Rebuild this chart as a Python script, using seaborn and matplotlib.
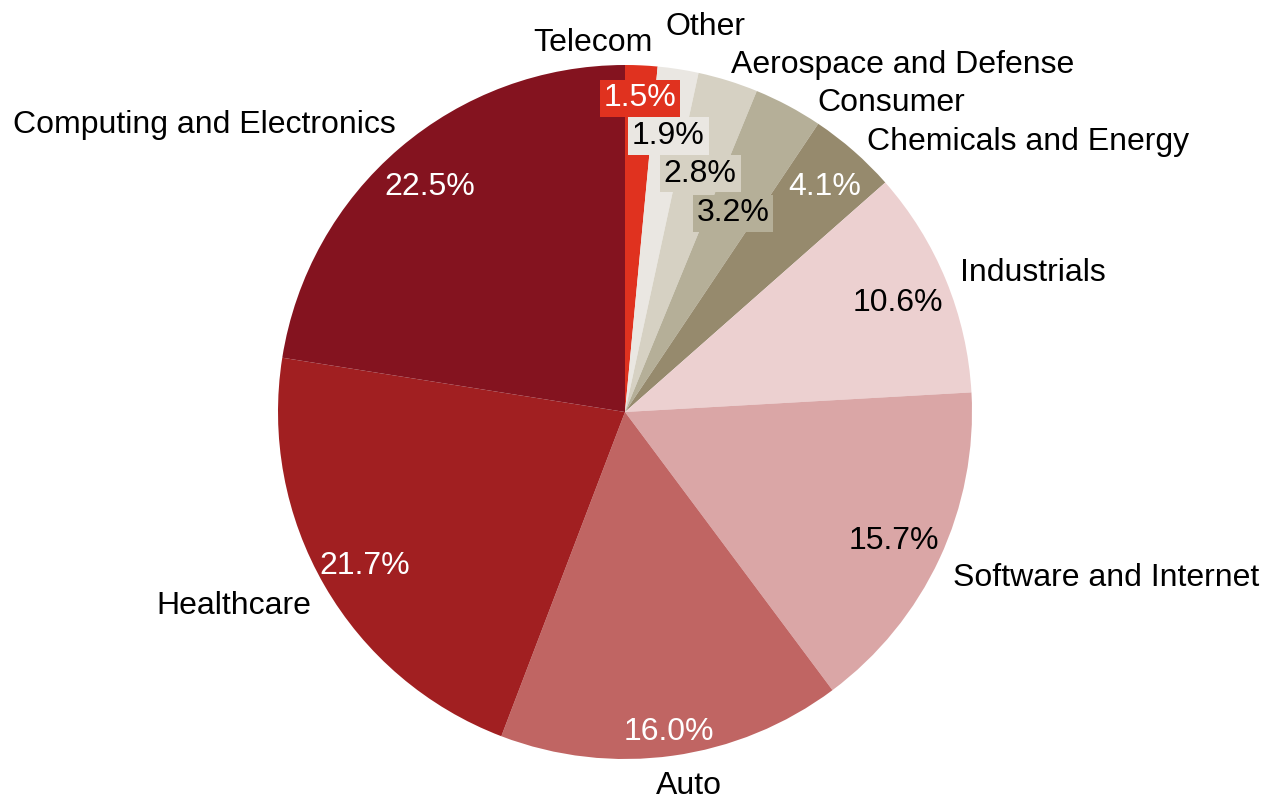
import numpy as np
import matplotlib
matplotlib.use("Agg")
import matplotlib.pyplot as plt
import seaborn as sns

# Sector shares (%) in clockwise order starting at 12 o'clock
sectors = ["Telecom", "Other", "Aerospace and Defense", "Consumer",
           "Chemicals and Energy", "Industrials", "Software and Internet",
           "Auto", "Healthcare", "Computing and Electronics"]
shares = [1.5, 1.9, 2.8, 3.2, 4.1, 10.6, 15.7, 16.0, 21.7, 22.5]

# Slice colours
slice_colors = ["#E0321F", "#EAE7E2", "#D6D1C3", "#B5AF98", "#968A6D",
                "#ECD0D0", "#DAA6A6", "#C06563", "#A11F21", "#84131F"]
pct_text_colors = ["white", "black", "black", "black", "white",
                   "black", "black", "white", "white", "white"]
# Thin slices get a backing box so their figures stay readable
pct_boxed = [True, True, True, True, False, False, False, False, False, False]

# Layout tweaks per slice: percentage radius, label radius,
# label angle nudge (degrees clockwise) and label alignment
pct_radius = [0.915, 0.816, 0.73, 0.66, 0.875, 0.85, 0.856, 0.92, 0.866, 0.866]
label_radius = [1.075, 1.127, 1.054, 1.057, 1.053, 1.048, 1.055, 1.084, 1.059, 1.065]
label_nudge = [1.5, -2.9, -0.5, 3.6, 0.2, -0.7, 1.4, -1.8, -1.2, 2.2]
label_ha = ["right", "left", "left", "left", "left", "left", "left",
            "center", "right", "right"]

sns.set_theme(style="white")
plt.rcParams["font.family"] = ["Liberation Sans", "DejaVu Sans"]

palette = sns.color_palette(slice_colors)

W, H, DPI = 1276, 799, 100
R_PX = 347.0
CX, CY = 625.0, 412.0  # centre in pixels from top-left

fig = plt.figure(figsize=(W / DPI, H / DPI), dpi=DPI)
ax = fig.add_axes([0, 0, 1, 1])

wedges, _ = ax.pie(shares, colors=palette, startangle=90, counterclock=False,
                   radius=1.0, wedgeprops=dict(linewidth=0, antialiased=True))

FS = 23
for i, w in enumerate(wedges):
    mid = np.deg2rad((w.theta1 + w.theta2) / 2.0)
    # percentage label
    px, py = pct_radius[i] * np.cos(mid), pct_radius[i] * np.sin(mid)
    box = dict(boxstyle="square,pad=0.12", fc=palette[i], ec="none") if pct_boxed[i] else None
    ax.text(px, py, f"{shares[i]:.1f}%", ha="center", va="center_baseline",
            fontsize=FS, color=pct_text_colors[i], bbox=box)
    # sector name outside the pie
    a = mid - np.deg2rad(label_nudge[i])
    lx, ly = label_radius[i] * np.cos(a), label_radius[i] * np.sin(a)
    ax.text(lx, ly, sectors[i], ha=label_ha[i], va="center_baseline",
            fontsize=FS, color="black")

ax.set_aspect("auto")
ax.set_xlim(-CX / R_PX, (W - CX) / R_PX)
ax.set_ylim(-(H - CY) / R_PX, CY / R_PX)
ax.axis("off")

fig.savefig("out.png", dpi=DPI, facecolor="white")
